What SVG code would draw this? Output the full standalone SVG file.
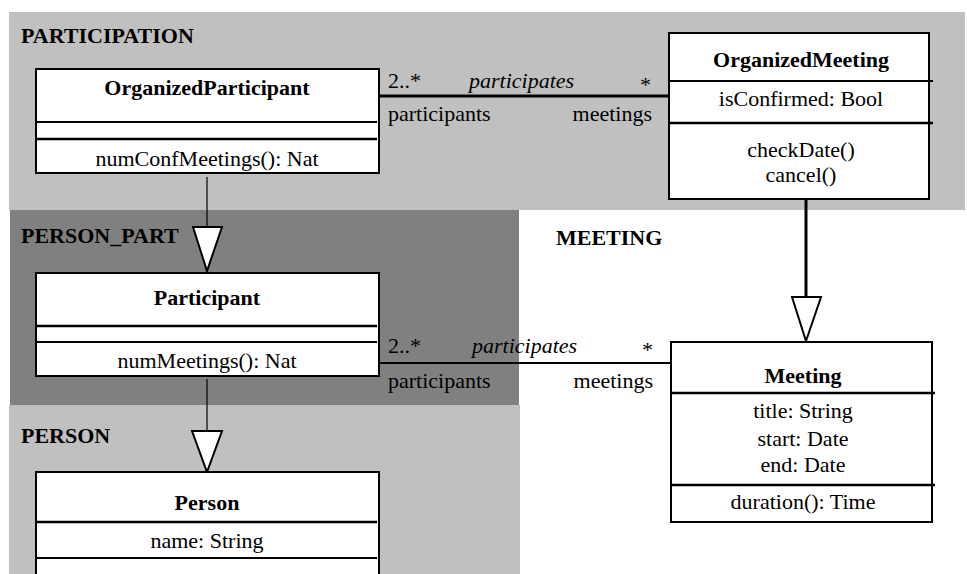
<svg xmlns="http://www.w3.org/2000/svg" width="967" height="574" viewBox="0 0 967 574">
<style>
text{font-family:'Liberation Serif','DejaVu Serif','Noto Serif',Tinos,'Times New Roman',Times,serif;font-size:22px;fill:#000}
.b{font-weight:bold}
.i{font-style:italic}
.c{text-anchor:middle}
.e{text-anchor:end}
.box{fill:#fff;stroke:#000;stroke-width:2}
.d1{stroke:#000;stroke-width:2}
.d2{stroke:#000;stroke-width:2.6}
.gen{fill:#fff;stroke:#000;stroke-width:2}
</style>
<rect width="967" height="574" fill="#fff"/>
<g id="packages" font-family="Liberation Serif, DejaVu Serif, serif">
<rect id="pkg-participation" x="9" y="12" width="956" height="198" fill="#c0c0c0"/>
<rect id="pkg-person-part" x="10" y="210" width="509" height="195" fill="#808080"/>
<rect id="pkg-person" x="9" y="405" width="511" height="169" fill="#c0c0c0"/>
<text class="b" x="21" y="43">PARTICIPATION</text>
<text class="b" x="21" y="243">PERSON_PART</text>
<text class="b" x="21" y="443">PERSON</text>
<text class="b" x="556" y="245">MEETING</text>
</g>
<g id="connectors">
<line x1="379" y1="96" x2="669" y2="96" stroke="#000" stroke-width="3"/>
<text x="388" y="88">2..*</text>
<text class="i" x="469" y="88">participates</text>
<text x="640" y="92">*</text>
<text x="388" y="121">participants</text>
<text class="e" x="652" y="121">meetings</text>
<line x1="379" y1="363" x2="671" y2="363" stroke="#000" stroke-width="2"/>
<text x="388" y="353">2..*</text>
<text class="i" x="472" y="353">participates</text>
<text x="642" y="357">*</text>
<text x="388" y="388">participants</text>
<text class="e" x="653" y="388">meetings</text>
<line x1="806" y1="199" x2="806" y2="297" stroke="#000" stroke-width="3"/>
<polygon class="gen" points="792,297 821,297 806,341"/>
<line x1="207" y1="177" x2="207" y2="227" stroke="#000" stroke-width="1.2"/>
<polygon class="gen" points="193,227 222,227 207,271"/>
<line x1="207" y1="379" x2="207" y2="431" stroke="#000" stroke-width="1.2"/>
<polygon class="gen" points="192,431 222,431 207,472"/>
</g>
<g id="OrganizedParticipant">
<rect class="box" x="36" y="69" width="343" height="104"/>
<line class="d1" x1="36" y1="122" x2="377" y2="122"/>
<line class="d2" x1="36" y1="139" x2="377" y2="139"/>
<text class="b c" x="207" y="95">OrganizedParticipant</text>
<text class="c" x="207" y="166">numConfMeetings(): Nat</text>
</g>
<g id="OrganizedMeeting">
<rect class="box" x="669" y="33" width="260" height="166"/>
<line class="d1" x1="669" y1="81" x2="933" y2="81"/>
<line class="d2" x1="669" y1="123" x2="933" y2="123"/>
<text class="b c" x="801" y="67">OrganizedMeeting</text>
<text class="c" x="801" y="106">isConfirmed: Bool</text>
<text class="c" x="801" y="157">checkDate()</text>
<text class="c" x="801" y="182">cancel()</text>
</g>
<g id="Participant">
<rect class="box" x="36" y="273" width="343" height="103"/>
<line class="d2" x1="36" y1="326" x2="377" y2="326"/>
<line class="d1" x1="36" y1="342" x2="377" y2="342"/>
<text class="b c" x="207" y="305">Participant</text>
<text class="c" x="207" y="368">numMeetings(): Nat</text>
</g>
<g id="Meeting">
<rect class="box" x="671" y="342" width="261" height="180"/>
<line class="d2" x1="671" y1="393" x2="935" y2="393"/>
<line class="d2" x1="671" y1="485" x2="935" y2="485"/>
<text class="b c" x="803" y="383">Meeting</text>
<text class="c" x="803" y="418">title: String</text>
<text class="c" x="803" y="446">start: Date</text>
<text class="c" x="803" y="472">end: Date</text>
<text class="c" x="803" y="509">duration(): Time</text>
</g>
<g id="Person">
<rect class="box" x="36" y="472" width="343" height="120"/>
<line class="d2" x1="36" y1="522" x2="377" y2="522"/>
<line class="d1" x1="36" y1="558" x2="377" y2="558"/>
<text class="b c" x="207" y="510">Person</text>
<text class="c" x="207" y="548">name: String</text>
</g>
</svg>
